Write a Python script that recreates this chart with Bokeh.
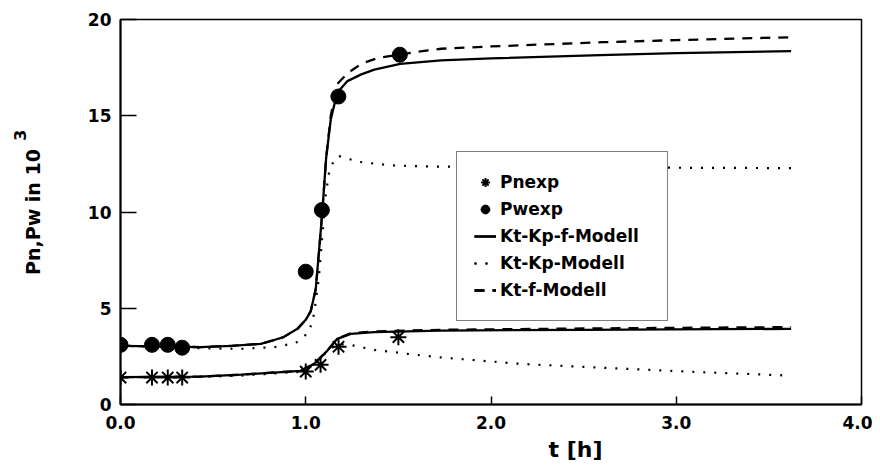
from bokeh.plotting import figure
from bokeh.models import (Range1d, FixedTicker, Legend, LegendItem, Title)
from bokeh.embed import file_html
from bokeh.resources import INLINE

# ---- data ----
pn_exp_t = [0.0, 0.17, 0.255, 0.333, 1.0, 1.08, 1.177, 1.5]
pn_exp = [1.4, 1.4, 1.4, 1.4, 1.71, 2.06, 3.0, 3.5]
pw_exp_t = [0.0, 0.17, 0.255, 0.333, 1.0, 1.087, 1.176, 1.508]
pw_exp = [3.1, 3.1, 3.1, 2.95, 6.9, 10.1, 16.0, 18.17]

# Kt-Kp-f-Modell (solid)
ktkpf_pw_t = [0.0, 0.2, 0.43, 0.6, 0.757, 0.83, 0.88, 0.955, 1.0, 1.027, 1.054, 1.072,
              1.09, 1.11, 1.135, 1.17, 1.225, 1.3, 1.37, 1.51, 1.73, 2.0, 2.59, 3.0, 3.62]
ktkpf_pw = [3.05, 3.02, 2.98, 3.05, 3.15, 3.35, 3.5, 3.93, 4.4, 4.85, 6.0, 8.0,
            10.1, 12.8, 14.8, 16.2, 16.8, 17.15, 17.4, 17.7, 17.88, 17.98, 18.15, 18.25, 18.36]
ktkpf_pn_t = [0.0, 0.43, 0.65, 0.973, 1.045, 1.117, 1.17, 1.243, 1.37, 1.73, 2.5, 3.62]
ktkpf_pn = [1.42, 1.45, 1.55, 1.75, 2.11, 2.8, 3.41, 3.67, 3.76, 3.84, 3.88, 3.93]

# Kt-Kp-Modell (dotted)
ktkp_pw_t = [0.0, 0.2, 0.43, 0.65, 0.83, 0.946, 1.018, 1.045, 1.07, 1.09, 1.108, 1.125,
             1.144, 1.165, 1.18, 1.29, 1.46, 1.69, 2.0, 2.98, 3.62]
ktkp_pw = [3.05, 3.0, 2.92, 2.89, 2.98, 3.19, 3.76, 4.71, 6.5, 8.8, 10.9, 12.0,
           12.5, 12.85, 12.9, 12.6, 12.42, 12.36, 12.34, 12.3, 12.28]
ktkp_pn_t = [0.0, 0.43, 0.65, 0.973, 1.045, 1.117, 1.17, 1.26, 1.37, 1.55, 1.71, 2.16,
             2.62, 3.135, 3.62]
ktkp_pn = [1.42, 1.43, 1.5, 1.7, 2.1, 2.75, 3.15, 3.06, 2.84, 2.63, 2.46, 2.11,
           1.9, 1.68, 1.5]

# Kt-f-Modell (dashed)
ktf_pw_t = [0.0, 0.2, 0.43, 0.6, 0.757, 0.83, 0.88, 0.955, 1.0, 1.027, 1.054, 1.072,
            1.09, 1.11, 1.135, 1.17, 1.225, 1.3, 1.39, 1.5, 1.66, 1.73, 2.0, 2.6, 3.0, 3.62]
ktf_pw = [3.05, 3.02, 2.98, 3.05, 3.15, 3.35, 3.5, 3.93, 4.4, 4.85, 6.0, 8.0,
          10.1, 12.8, 15.0, 16.65, 17.2, 17.7, 18.0, 18.17, 18.4, 18.48, 18.6, 18.82, 18.93, 19.08]
ktf_pn_t = [0.0, 0.43, 0.65, 0.973, 1.045, 1.117, 1.17, 1.243, 1.37, 1.73, 2.5, 3.62]
ktf_pn = [1.42, 1.45, 1.55, 1.75, 2.11, 2.8, 3.41, 3.7, 3.8, 3.88, 3.95, 4.02]

x_ticks = [0, 1, 2, 3, 4]
x_tick_labels = ["0.0", "1.0", "2.0", "3.0", "4.0"]
y_ticks = [0, 5, 10, 15, 20]
y_tick_labels = ["0", "5", "10", "15", "20"]

FONT = "DejaVu Sans"

p = figure(frame_width=741, frame_height=385, output_backend="svg",
           toolbar_location=None, x_range=Range1d(0, 4), y_range=Range1d(0, 20),
           min_border_left=120, min_border_right=11, min_border_top=19,
           min_border_bottom=55)
p.background_fill_color = "white"
p.border_fill_color = "white"
p.outline_line_color = "black"
p.outline_line_width = 1.5
p.xgrid.visible = False
p.ygrid.visible = False

for ax, ticks, labels, tin in ((p.xaxis[0], x_ticks, x_tick_labels, 8),
                               (p.yaxis[0], y_ticks, y_tick_labels, 16)):
    ax.ticker = FixedTicker(ticks=ticks)
    ax.major_label_overrides = {t: l for t, l in zip(ticks, labels)}
    ax.major_tick_in = tin
    ax.major_tick_out = 0
    ax.minor_tick_line_color = None
    ax.axis_line_width = 2
    ax.major_tick_line_width = 1.5
    ax.major_label_text_font = FONT
    ax.major_label_text_font_style = "bold"
    ax.major_label_text_font_size = "17px"
    ax.major_label_text_color = "black"
p.xaxis.major_label_standoff = 11
p.yaxis.major_label_standoff = 9

p.yaxis.axis_label = "Pn,Pw in 10"
p.yaxis.axis_label_text_font = FONT
p.yaxis.axis_label_text_font_style = "bold"
p.yaxis.axis_label_text_font_size = "19px"
p.yaxis.axis_label_text_color = "black"
p.yaxis.axis_label_standoff = 41

LW = 2.3
solid_pw = p.line(ktkpf_pw_t, ktkpf_pw, line_color="black", line_width=LW)
solid_pn = p.line(ktkpf_pn_t, ktkpf_pn, line_color="black", line_width=LW)
dot_pw = p.line(ktkp_pw_t, ktkp_pw, line_color="black", line_width=2.2, line_dash="2 9")
dot_pn = p.line(ktkp_pn_t, ktkp_pn, line_color="black", line_width=2.2, line_dash="2 9")
dash_pw = p.line(ktf_pw_t, ktf_pw, line_color="black", line_width=LW, line_dash="10 8")
dash_pn = p.line(ktf_pn_t, ktf_pn, line_color="black", line_width=LW, line_dash="10 8")

stars = p.scatter(pn_exp_t, pn_exp, marker="asterisk", size=16, line_color="black",
                  line_width=2)
circles = p.scatter(pw_exp_t, pw_exp, marker="circle", size=15, fill_color="black",
                    line_color="black")

legend = Legend(items=[
    LegendItem(label="Pnexp", renderers=[stars]),
    LegendItem(label="Pwexp", renderers=[circles]),
    LegendItem(label="Kt-Kp-f-Modell", renderers=[solid_pw, solid_pn]),
    LegendItem(label="Kt-Kp-Modell", renderers=[dot_pw, dot_pn]),
    LegendItem(label="Kt-f-Modell", renderers=[dash_pw, dash_pn]),
], location=(336, 83))
legend.label_text_font = FONT
legend.label_text_font_style = "bold"
legend.label_text_font_size = "17px"
legend.label_text_color = "black"
legend.glyph_width = 22
legend.glyph_height = 26
legend.label_height = 26
legend.label_width = 150
legend.label_standoff = 4
legend.spacing = 1
legend.padding = 17
legend.margin = 0
legend.border_line_color = "black"
legend.border_line_width = 1.5
legend.background_fill_alpha = 1.0
p.add_layout(legend, "center")

# x-axis title (placed right of centre, as in the original)
p.add_layout(Title(text="t [h]", align="left", offset=428, standoff=6,
                   text_font=FONT, text_font_style="bold", text_font_size="22px",
                   text_color="black"), "below")
# superscript of the y-axis title
p.add_layout(Title(text="3", align="right", offset=110, standoff=-14,
                   text_font=FONT, text_font_style="bold", text_font_size="16px",
                   text_color="black"), "left")

open("out.html", "w").write(file_html(p, INLINE))
